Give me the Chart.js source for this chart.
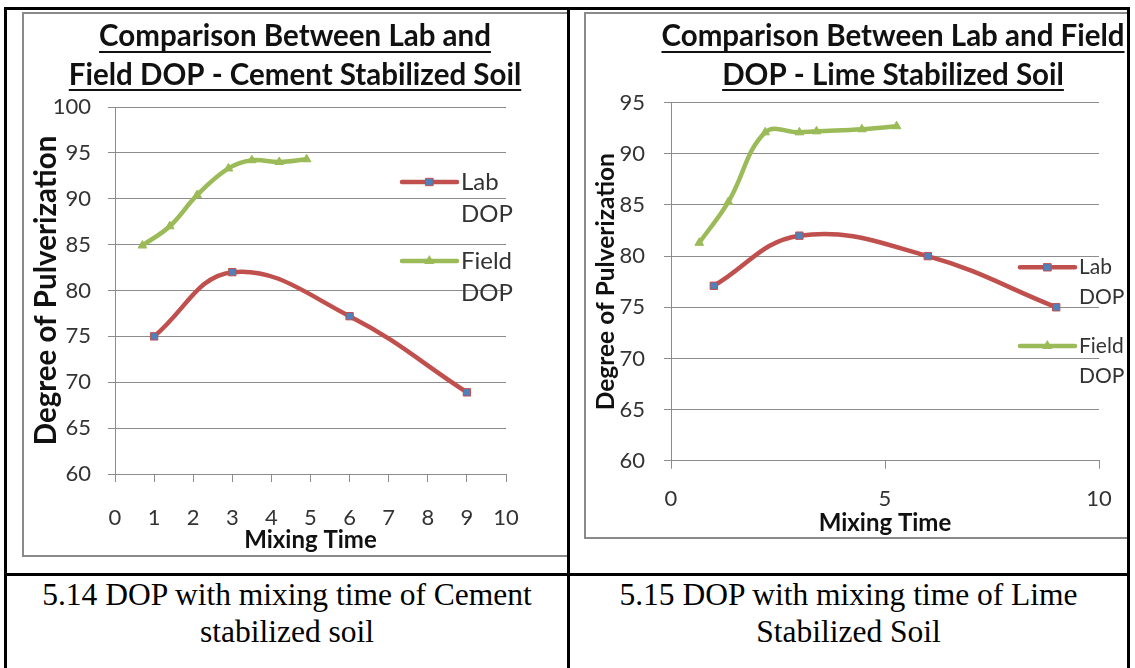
<!DOCTYPE html>
<html>
<head>
<meta charset="utf-8">
<title>DOP with mixing time</title>
<script src="https://cdn.jsdelivr.net/npm/chart.js@4.4.1/dist/chart.umd.min.js"></script>
<style>
  body { margin: 0; background: #fff; }
  #page { position: relative; width: 1135px; height: 668px; overflow: hidden; background: #fff; }
  .rule { position: absolute; background: #000; }
  .cell { position: absolute; overflow: hidden; }
  .frame { position: absolute; border: 2px solid #8a8a8a; box-sizing: border-box; }
  .cell canvas { position: absolute; }
  .caption { position: absolute; font-family: "Liberation Serif", "Times New Roman", serif;
             font-size: 31.5px; line-height: 37px; text-align: center; color: #000; }
</style>
</head>
<body>
<div id="page">
  <div class="cell" style="left:7px;top:10px;width:560px;height:563px;">
    <div class="frame" style="left:15px;top:2px;width:570px;height:545px;"></div>
    <canvas id="cementChart" width="546" height="545" style="left:15px;top:2px;"></canvas>
  </div>
  <div class="cell" style="left:570px;top:10px;width:557px;height:563px;">
    <div class="frame" style="left:14px;top:2px;width:600px;height:527px;"></div>
    <canvas id="limeChart" width="560" height="527" style="left:14px;top:2px;"></canvas>
  </div>

  <div class="caption" style="left:7px;top:576px;width:560px;">5.14 DOP with mixing time of Cement<br>stabilized soil</div>
  <div class="caption" style="left:570px;top:576px;width:557px;">5.15 DOP with mixing time of Lime<br>Stabilized Soil</div>

  <div class="rule" style="left:4px;top:7px;width:1126px;height:3px;"></div>
  <div class="rule" style="left:4px;top:7px;width:3px;height:661px;"></div>
  <div class="rule" style="left:567px;top:7px;width:3px;height:661px;"></div>
  <div class="rule" style="left:1127px;top:7px;width:3px;height:661px;"></div>
  <div class="rule" style="left:4px;top:573px;width:1126px;height:3px;"></div>
</div>

<script>
// cement stabilized soil
const cementLabTime = [1, 3, 6, 9];
const cementLabDop = [75, 82, 77.2, 68.9];
const cementFieldTime = [0.7, 1.4, 2.1, 2.9, 3.5, 4.2, 4.9];
const cementFieldDop = [84.9, 87, 90.4, 93.3, 94.2, 94.0, 94.3];

// lime stabilized soil
const limeLabTime = [1, 3, 6, 9];
const limeLabDop = [77.1, 82, 80, 75];
const limeFieldTime = [0.66, 1.34, 2.2, 3.0, 3.4, 4.46, 5.27];
const limeFieldDop = [81.3, 85.3, 92.1, 92.1, 92.2, 92.4, 92.7];

const seriesNames = [['Lab', 'DOP'], ['Field', 'DOP']];

const RED = '#C0504D';
const BLUE = '#4F81BD';
const GREEN = '#9BBB59';
const GRID = '#8c8c8c';
const FONT = 'Lato, "Open Sans", sans-serif';

function points(xs, ys) {
    let out = [];
    for (let i = 0; i < xs.length; i++) out.push({ x: xs[i], y: ys[i] });
    return out;
}

function drawMarker(ctx, style, x, y, r, fill, stroke) {
    ctx.save();
    ctx.fillStyle = fill;
    ctx.strokeStyle = stroke;
    ctx.lineWidth = 1;
    ctx.beginPath();
    if (style == 'rect') {
        let s = r * Math.SQRT1_2;
        ctx.rect(x - s, y - s, 2 * s, 2 * s);
    } else {
        ctx.moveTo(x, y - r);
        ctx.lineTo(x + r * 0.866, y + r * 0.5);
        ctx.lineTo(x - r * 0.866, y + r * 0.5);
        ctx.closePath();
    }
    ctx.fill();
    ctx.stroke();
    ctx.restore();
}

// underlined chart title and the two-line legend entries
const decor = {
    id: 'decor',
    afterDraw(chart, args, opts) {
        const ctx = chart.ctx;
        ctx.save();
        ctx.font = opts.titleFont;
        ctx.fillStyle = '#111';
        ctx.textAlign = 'center';
        ctx.textBaseline = 'middle';
        opts.title.forEach((line, i) => {
            ctx.fillText(line, opts.titleX, opts.titleY[i]);
            let w = ctx.measureText(line).width;
            ctx.fillRect(opts.titleX - w / 2, opts.underlineY[i], w, 2);
        });

        const lg = opts.legend;
        ctx.font = lg.size + 'px ' + FONT;
        ctx.fillStyle = '#333';
        ctx.textAlign = 'left';
        chart.data.datasets.forEach((ds, i) => {
            let y = lg.y[i];
            ctx.strokeStyle = ds.borderColor;
            ctx.lineWidth = ds.borderWidth;
            ctx.lineCap = 'round';
            ctx.beginPath();
            ctx.moveTo(lg.x1, y);
            ctx.lineTo(lg.x2, y);
            ctx.stroke();
            drawMarker(ctx, ds.pointStyle, (lg.x1 + lg.x2) / 2, y, ds.pointRadius,
                ds.pointBackgroundColor, ds.pointBorderColor);
            seriesNames[i].forEach((t, k) => {
                ctx.fillText(t, lg.x2 + 4, y + k * lg.gap);
            });
        });
        ctx.restore();
    }
};

function makeChart(id, c) {
    new Chart(document.getElementById(id), {
        type: 'line',
        data: {
            datasets: [{
                label: 'Lab DOP',
                data: points(c.labTime, c.labDop),
                borderColor: RED,
                borderWidth: 4.5,
                pointStyle: 'rect',
                pointRadius: 5.2,
                pointBackgroundColor: BLUE,
                pointBorderColor: RED,
                pointBorderWidth: 1,
                tension: 0.4
            }, {
                label: 'Field DOP',
                data: points(c.fieldTime, c.fieldDop),
                borderColor: GREEN,
                borderWidth: 4.5,
                pointStyle: 'triangle',
                pointRadius: 5,
                pointBackgroundColor: GREEN,
                pointBorderColor: GREEN,
                pointBorderWidth: 1,
                tension: 0.4
            }]
        },
        options: {
            responsive: false,
            animation: false,
            devicePixelRatio: 1,
            layout: { padding: { top: c.top, right: c.right, left: 0, bottom: 0 } },
            plugins: {
                legend: { display: false },
                tooltip: { enabled: false },
                decor: c.decor
            },
            scales: {
                x: {
                    type: 'linear',
                    min: 0, max: 10,
                    afterFit: s => { s.height = c.xHeight; },
                    ticks: { stepSize: c.xStep, padding: c.xPad, color: '#333', font: { family: FONT, size: 22 } },
                    grid: { drawOnChartArea: false, drawTicks: true, tickLength: 8, color: GRID },
                    border: { color: GRID, width: 1 },
                    title: {
                        display: true, text: 'Mixing Time', color: '#111',
                        font: { family: FONT, size: 24, weight: 'bold' },
                        padding: { top: 0, bottom: c.xTitlePad }
                    }
                },
                y: {
                    min: 60, max: c.yMax,
                    afterFit: s => { s.width = c.yWidth; },
                    ticks: { stepSize: 5, padding: c.yPad, color: '#333', font: { family: FONT, size: 22 } },
                    grid: { color: GRID, tickLength: 7 },
                    border: { color: GRID, width: 1 },
                    title: {
                        display: true, text: 'Degree of Pulverization', color: '#111',
                        font: { family: FONT, size: c.yTitleSize, weight: 'bold' },
                        padding: { top: c.yTitlePad, bottom: 0 }
                    }
                }
            }
        },
        plugins: [decor]
    });
}

makeChart('cementChart', {
    labTime: cementLabTime, labDop: cementLabDop,
    fieldTime: cementFieldTime, fieldDop: cementFieldDop,
    top: 95, right: 62, yWidth: 93, xHeight: 83,
    yMax: 100, xStep: 1, xPad: 22.5, yPad: 17,
    xTitlePad: 2.6, yTitleSize: 29.5, yTitlePad: 7.2,
    decor: {
        title: ['Comparison Between Lab and', 'Field DOP - Cement Stabilized Soil'],
        titleFont: 'bold 29.5px ' + FONT,
        titleX: 273, titleY: [24.7, 63], underlineY: [39, 77],
        legend: { x1: 380, x2: 435, y: [170, 249], gap: 32, size: 24 }
    }
});

makeChart('limeChart', {
    labTime: limeLabTime, labDop: limeLabDop,
    fieldTime: limeFieldTime, fieldDop: limeFieldDop,
    top: 90.7, right: 45, yWidth: 87, xHeight: 78.3,
    yMax: 95, xStep: 5, xPad: 17, yPad: 19,
    xTitlePad: 1.3, yTitleSize: 24.5, yTitlePad: 7.3,
    decor: {
        title: ['Comparison Between Lab and Field', 'DOP - Lime Stabilized Soil'],
        titleFont: 'bold 29.5px ' + FONT,
        titleX: 309, titleY: [24.7, 63], underlineY: [39, 77],
        legend: { x1: 436, x2: 491, y: [255.3, 334], gap: 30, size: 21 }
    }
});
</script>
</body>
</html>
